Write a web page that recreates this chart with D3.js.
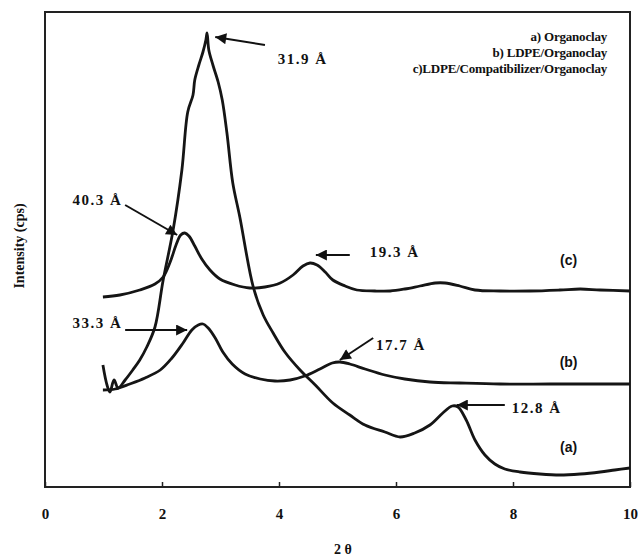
<!DOCTYPE html>
<html>
<head>
<meta charset="utf-8">
<script src="https://cdn.jsdelivr.net/npm/d3@7"></script>
<style>
  body { margin: 0; background: #fff; }
  text { font-family: "Liberation Serif", "DejaVu Serif", serif; font-weight: bold; fill: #111; }
</style>
</head>
<body>
<div id="chart"></div>
<script>
// XRD patterns (2 theta, intensity in arbitrary cps)
var organoclayX = [0.99, 1.06, 1.11, 1.18, 1.25, 1.37, 1.50, 1.62, 1.74, 1.88, 2.02, 2.19, 2.34, 2.44, 2.53, 2.56, 2.63, 2.70, 2.75, 2.77, 2.80, 2.87, 2.96, 3.03, 3.11, 3.21, 3.33, 3.56, 3.73, 3.90, 4.10, 4.36, 4.62, 4.92, 5.21, 5.47, 5.81, 6.07, 6.32, 6.58, 6.80, 6.96, 7.06, 7.20, 7.35, 7.52, 7.69, 7.86, 8.12, 8.46, 8.80, 9.15, 9.49, 9.74, 10.0];
var organoclayY = [244, 204, 190, 214, 198, 214, 234, 254, 280, 320, 414, 514, 634, 750, 784, 814, 844, 870, 894, 908, 874, 844, 810, 774, 708, 608, 540, 400, 344, 308, 270, 234, 204, 168, 144, 124, 110, 100, 108, 124, 148, 162, 160, 134, 94, 64, 46, 36, 30, 26, 24, 26, 30, 34, 38];

var ldpeX = [0.99, 1.2, 1.45, 1.71, 1.97, 2.17, 2.36, 2.51, 2.62, 2.70, 2.79, 2.91, 3.04, 3.20, 3.42, 3.68, 3.93, 4.19, 4.44, 4.70, 4.91, 5.04, 5.21, 5.47, 5.81, 6.15, 6.58, 7.09, 7.78, 8.63, 9.49, 10.0];
var ldpeY = [194, 196, 206, 218, 234, 258, 288, 314, 324, 326, 318, 298, 270, 246, 226, 216, 212, 214, 222, 236, 248, 250, 246, 236, 224, 216, 210, 208, 206, 206, 206, 206];

var compatX = [0.99, 1.28, 1.62, 1.88, 2.02, 2.14, 2.24, 2.32, 2.39, 2.46, 2.56, 2.68, 2.82, 2.99, 3.25, 3.50, 3.76, 4.02, 4.24, 4.41, 4.53, 4.65, 4.79, 4.92, 5.13, 5.33, 5.64, 5.90, 6.15, 6.41, 6.67, 6.84, 7.09, 7.35, 7.78, 8.29, 8.80, 9.15, 9.49, 10.0];
var compatY = [380, 384, 394, 406, 420, 450, 484, 504, 508, 502, 482, 456, 434, 416, 404, 398, 400, 408, 424, 442, 448, 444, 430, 414, 402, 394, 392, 392, 396, 402, 408, 408, 402, 394, 392, 392, 394, 396, 394, 392];

var xTicks = [0, 2, 4, 6, 8, 10];
var legendLines = ['a) Organoclay', 'b) LDPE/Organoclay', 'c)LDPE/Compatibilizer/Organoclay'];
var curveTags = ['(a)', '(b)', '(c)'];
var curveTagAt = [[8.95, 80], [8.95, 250], [8.95, 454]];

// d-spacing labels: arrow tip, arrow tail, text anchor (all in data units)
var peakLabels = ['31.9 Å', '40.3 Å', '33.3 Å', '19.3 Å', '17.7 Å', '12.8 Å'];
var peakTips = [[2.91, 900], [2.26, 504], [2.43, 314], [4.63, 464], [5.04, 254], [7.04, 164]];
var peakTails = [[3.76, 884], [1.37, 564], [1.37, 314], [5.21, 464], [5.61, 298], [7.86, 164]];
var peakText = [[3.98, 856], [1.32, 574], [1.32, 328], [5.55, 470], [5.66, 284], [7.98, 158]];
var peakAnchor = ['start', 'end', 'end', 'start', 'start', 'start'];

var W = 638, H = 560;
var svg = d3.select('#chart').append('svg').attr('width', W).attr('height', H);

var x = d3.scaleLinear().domain([0, 10]).range([45, 630]);
var y = d3.scaleLinear().domain([0, 950]).range([487, 12]);

svg.append('defs').append('marker')
  .attr('id', 'head')
  .attr('viewBox', '0 0 10 10')
  .attr('refX', 10).attr('refY', 5)
  .attr('markerWidth', 13).attr('markerHeight', 11)
  .attr('markerUnits', 'userSpaceOnUse')
  .attr('orient', 'auto')
  .append('path').attr('d', 'M0,0 L10,5 L0,10 Z').attr('fill', '#111');

// frame
svg.append('rect')
  .attr('x', x(0)).attr('y', y(950))
  .attr('width', x(10) - x(0)).attr('height', y(0) - y(950))
  .attr('fill', 'none').attr('stroke', '#222').attr('stroke-width', 2);

// bottom axis with small inward ticks
var xAxis = svg.append('g')
  .attr('transform', 'translate(0,' + y(0) + ')')
  .call(d3.axisBottom(x).tickValues(xTicks).tickSizeInner(-5).tickSizeOuter(0).tickPadding(21).tickFormat(d3.format('d')));
xAxis.select('.domain').remove();
xAxis.selectAll('line').attr('stroke', '#222').attr('stroke-width', 1.5);
xAxis.selectAll('text')
  .style('font-family', '"Liberation Serif", serif').style('font-weight', 'bold')
  .style('font-size', '15px').attr('fill', '#111');

svg.append('text').attr('x', 343).attr('y', 554)
  .attr('text-anchor', 'middle').style('font-size', '14px').text('2 θ');

svg.append('text')
  .attr('transform', 'translate(24,246) rotate(-90)')
  .attr('text-anchor', 'middle').style('font-size', '14px').text('Intensity (cps)');

// curves
var line = d3.line()
  .curve(d3.curveCatmullRom.alpha(0.5))
  .x(function(d) { return x(d[0]); })
  .y(function(d) { return y(d[1]); });
var series = [
  d3.zip(organoclayX, organoclayY),
  d3.zip(ldpeX, ldpeY),
  d3.zip(compatX, compatY)
];
svg.selectAll('path.curve').data(series).enter().append('path')
  .attr('class', 'curve')
  .attr('d', line)
  .attr('fill', 'none').attr('stroke', '#151515')
  .attr('stroke-width', 2.8).attr('stroke-linejoin', 'round');

// curve tags
svg.selectAll('text.tag').data(curveTags).enter().append('text')
  .attr('class', 'tag')
  .attr('x', function(d, i) { return x(curveTagAt[i][0]); })
  .attr('y', function(d, i) { return y(curveTagAt[i][1]); })
  .attr('text-anchor', 'middle').attr('dy', '0.35em')
  .style('font-family', '"Liberation Sans", Arial, sans-serif').style('font-size', '14px')
  .text(function(d) { return d; });

// peak arrows and labels
svg.selectAll('line.arrow').data(peakLabels).enter().append('line')
  .attr('class', 'arrow')
  .attr('x1', function(d, i) { return x(peakTails[i][0]); })
  .attr('y1', function(d, i) { return y(peakTails[i][1]); })
  .attr('x2', function(d, i) { return x(peakTips[i][0]); })
  .attr('y2', function(d, i) { return y(peakTips[i][1]); })
  .attr('stroke', '#111').attr('stroke-width', 2)
  .attr('marker-end', 'url(#head)');

svg.selectAll('text.peak').data(peakLabels).enter().append('text')
  .attr('class', 'peak')
  .attr('x', function(d, i) { return x(peakText[i][0]); })
  .attr('y', function(d, i) { return y(peakText[i][1]); })
  .attr('dy', '0.35em')
  .attr('text-anchor', function(d, i) { return peakAnchor[i]; })
  .style('font-size', '15px').style('letter-spacing', '1.5px')
  .text(function(d) { return d; });

// legend, right aligned
svg.selectAll('text.legend').data(legendLines).enter().append('text')
  .attr('class', 'legend')
  .attr('x', 607)
  .attr('y', function(d, i) { return 41 + i * 16; })
  .attr('text-anchor', 'end').style('font-size', '13px').style('letter-spacing', '-0.2px')
  .text(function(d) { return d; });
</script>
</body>
</html>
